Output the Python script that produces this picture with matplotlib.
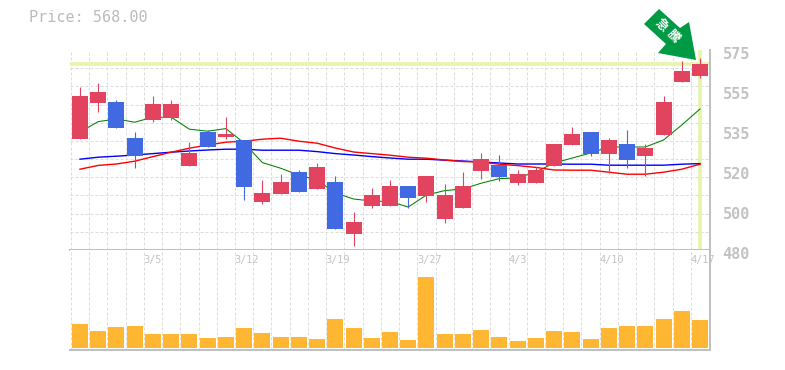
import numpy as np
import matplotlib
matplotlib.use('Agg')
import matplotlib.pyplot as plt
from matplotlib.patches import Polygon
from matplotlib.transforms import ScaledTranslation

# candles, red = close above open
opens = [530.5, 548.5, 549, 531, 540, 541, 517, 534, 531.5, 530, 499, 503, 514, 505.5, 509, 483, 497, 497, 507, 502,
         490.5, 496, 514.5, 517.5, 508.5, 508.5, 517, 527.5, 534, 523, 528, 522, 532.5, 559, 562]
highs = [556.6, 558.5, 550, 534, 552, 550, 529, 535, 541.5, 530, 510, 513, 515, 518.5, 512, 494, 506, 510, 507, 512,
         508, 514, 523.5, 522.5, 515, 516.5, 528, 536.5, 534, 531, 535, 528, 552, 569.5, 571]
lows = [530.5, 544, 536, 516, 539, 540, 517, 526.5, 530.5, 500, 498, 503, 504, 505.5, 485.5, 477, 496, 497, 496, 499,
        488.5, 496, 510.5, 509.5, 507.5, 508.5, 517, 527.5, 522, 513.5, 516, 512, 532.5, 559, 561]
closes = [552, 554, 536, 522, 548, 548, 523.5, 526.5, 533, 506.5, 503.5, 509, 504, 516.5, 485.5, 489, 502.5, 507, 501, 512,
          502.5, 507, 520.5, 511.5, 513, 515, 528, 533, 523, 530, 520, 526, 549, 564.5, 568]

ma_short = [534, 539.2, 540.5, 538.9, 541.4, 541.4, 535.4, 534.4, 535.7, 528.5, 518.7, 515.9, 512.5, 510, 503.5, 500.5,
            499.5, 499.2, 496.5, 502.5, 504.7, 505.5, 508.4, 510.7, 511, 514, 518.5, 521, 523.5, 526.5, 526.5, 526.5,
            530, 537.5, 545.5]
ma_mid = [515.4, 517.3, 518, 519.4, 521.7, 523.9, 525.9, 527.5, 528.9, 529.4, 530.4, 530.9, 529.4, 528.4, 526, 524,
          523.2, 522.4, 521.4, 520.9, 520, 519.2, 519, 517.9, 517.2, 516.3, 515, 514.9, 514.9, 513.9, 512.9, 512.9,
          513.9, 515.4, 517.9]
ma_long = [520.4, 521.4, 521.9, 522.5, 523.2, 523.9, 524.5, 525, 525.4, 525.4, 524.9, 524.9, 524.9, 524.2, 523.2, 522.5,
           521.7, 521, 520.4, 520.4, 519.9, 519.5, 519, 518.5, 518, 518, 518, 517.9, 517.9, 517.4, 517.4, 517.4, 517.4,
           517.9, 518.2]
volume = [24, 17, 21, 22, 14, 14, 14, 10, 11, 20, 15, 11, 11, 9, 29, 20, 10, 16, 8, 71, 14, 14, 18, 11, 7, 10, 17, 16,
          9, 20, 22, 22, 29, 37, 28]

date_labels = ['3/5', '3/12', '3/19', '3/27', '4/3', '4/10', '4/17']
date_idx = [4, 9, 14, 19, 24, 29, 34]
price_ticks = [575, 555, 535, 515, 495, 475]
price_labels = ['575', '555', '535', '520', '500', '480']
last_price = 568.0

W, H = 785, 370
RED = '#e2435f'
BLUE = '#4169e1'
LIME = '#e6f5a8'
GRID = '#dcdcdc'
EDGE = '#c0c0c0'
TXT = '#c2c2c2'
MONO = 'DejaVu Sans Mono'

fig = plt.figure(figsize=(W/100, H/100), dpi=100)
ax = fig.add_axes([70/W, 1-250/H, 640/W, 200/H])
vax = fig.add_axes([70/W, 1-350/H, 640/W, 100/H], sharex=ax)

x = np.arange(len(closes))
bw = 0.88
ax.set_xlim(-0.548, 34.548)
ax.set_ylim(475, 575)
vax.set_ylim(-2, 98)

grid_x = x - 0.5
for a in (ax, vax):
    a.set_xticks(grid_x)
    a.tick_params(axis='x', length=0, labelbottom=False)
    a.grid(axis='x', color=GRID, linestyle=(0, (3, 2)), linewidth=0.72)
    a.set_axisbelow(True)
    for s in ('left', 'top'):
        a.spines[s].set_visible(False)
    for s in ('right', 'bottom'):
        a.spines[s].set_color(EDGE)
        a.spines[s].set_linewidth(1.44)

ax.set_yticks(np.linspace(475, 575, 12), minor=True)
ax.grid(axis='y', which='minor', color=GRID, linestyle=(0, (3, 2)), linewidth=0.72)
ax.tick_params(axis='y', which='minor', length=0)
ax.yaxis.tick_right()
ax.set_yticks(price_ticks)
ax.set_yticklabels(price_labels, fontfamily=MONO, fontsize=11, color=TXT, fontweight='bold')
ax.tick_params(axis='y', which='major', length=0, pad=9)
shift = ScaledTranslation(0, -3/100, fig.dpi_scale_trans)
for lab in ax.get_yticklabels():
    lab.set_transform(lab.get_transform() + shift)
vax.set_yticks([])

ax.axhline(last_price, color=LIME, linewidth=2.6, zorder=1.5)
ax.axvline(x[-1], ymin=0.01, ymax=0.995, color=LIME, linewidth=2.6, zorder=1.5)

ax.plot(x, ma_short, color='#008000', linewidth=0.75, zorder=2)
ax.plot(x, ma_long, color='#0000ff', linewidth=1.0, zorder=2)
ax.plot(x, ma_mid, color='#ff0000', linewidth=1.0, zorder=2)

cols = [RED if c >= o else BLUE for o, c in zip(opens, closes)]
ax.vlines(x, lows, highs, colors=cols, linewidth=0.8, zorder=3)
ax.bar(x, np.abs(np.array(closes)-np.array(opens)), bottom=np.minimum(opens, closes), width=bw, color=cols, zorder=4)

vax.bar(x, volume, width=bw, color='#ffb733', zorder=3)
for d, i in zip(date_labels, date_idx):
    vax.text(i-0.53, 88, d, ha='left', va='center', fontfamily=MONO, fontsize=7.4, color=TXT, zorder=5)

fig.text(29/W, 1-18/H, 'Price: %.2f' % last_price, fontfamily=MONO, fontsize=10.9, color='#bbbbbb', ha='left', va='center')

# arrow badge, pixel outline
arrow_px = [(644, 24), (659, 9), (680, 28), (689, 22), (696, 60), (658, 53), (666, 44)]
fig.add_artist(Polygon([(px/W, 1-py/H) for px, py in arrow_px], closed=True, transform=fig.transFigure,
                       facecolor='#009944', edgecolor='none', zorder=10))
fig.text(661/W, 1-25/H, '急', rotation=-45, ha='center', va='center', color='white', fontsize=9, fontweight='bold',
         family=['Noto Sans CJK JP', 'DejaVu Sans'], zorder=11)
fig.text(673/W, 1-36/H, '騰', rotation=-45, ha='center', va='center', color='white', fontsize=9, fontweight='bold',
         family=['Noto Sans CJK JP', 'DejaVu Sans'], zorder=11)

fig.savefig('out.png', dpi=100)
